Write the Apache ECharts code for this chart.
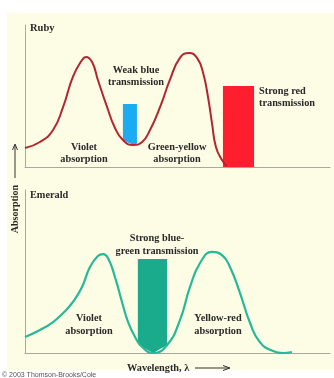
<!DOCTYPE html>
<html><head><meta charset="utf-8">
<script src="https://cdn.jsdelivr.net/npm/echarts/dist/echarts.min.js"></script>
<style>html,body{margin:0;padding:0;background:#fff}#c{width:334px;height:378px}</style>
</head><body><div id="c"></div>
<script>
// ---- Data (wavelength in arbitrary units 0-100, absorption 0-100) ----
const rubyX = [0, 4.9, 9.2, 12.5, 15.7, 18.7, 20.0, 22.0, 23.9, 26.9, 29.5, 32.1, 35.4, 38.4, 41.0, 44.3, 47.5, 50.8, 53.8, 56.4, 58.4, 60.0, 61.3, 62.6, 64.6, 66.2];
const rubyY = [13.4, 17.6, 26.1, 42.3, 63.4, 75.4, 77.5, 73.9, 61.3, 42.3, 27.5, 19.0, 15.5, 17.6, 26.1, 42.3, 61.3, 76.8, 80.3, 76.8, 66.2, 49.3, 31.0, 14.1, 4.9, 0.7];
const emeraldX = [0, 4.9, 9.2, 12.5, 15.7, 18.7, 21.3, 23.9, 25.6, 27.2, 29.5, 31.8, 33.8, 36.1, 38.4, 42.0, 46.6, 50.8, 54.1, 57.4, 61.3, 64.6, 67.2, 70.5, 73.8, 77.0, 81.3, 84.6, 87.5];
const emeraldY = [9.8, 14.1, 19.0, 24.5, 31.3, 40.5, 52.8, 59.5, 60.7, 58.3, 46.6, 31.3, 19.0, 9.8, 3.7, 0, 4.9, 20.2, 40.5, 55.2, 62.0, 60.1, 52.8, 36.8, 18.4, 6.7, 1.2, 0, 0.6];
// transmission bands: [start, end, top]
const rubyBlueBand = [32.1, 36.7, 44.4];
const rubyRedBand = [64.9, 75.1, 57.0];
const emeraldBand = [37.0, 46.6, 57.7];

const chart = echarts.init(document.getElementById('c'), null, {renderer: 'canvas'});
const FONT = '"Liberation Serif", "DejaVu Serif", serif';

function pairs(xs, ys) { return xs.map((x, i) => [x, ys[i]]); }
function interp(xs, ys, x) {
  if (x <= xs[0]) return ys[0];
  for (let i = 1; i < xs.length; i++) {
    if (x <= xs[i]) { const t = (x - xs[i-1]) / (xs[i] - xs[i-1]); return ys[i-1] + t * (ys[i] - ys[i-1]); }
  }
  return 0;
}
function bandRenderer(xs, ys, toCurve) {
  return function (params, api) {
    const x0 = api.value(0), x1 = api.value(1), top = api.value(2);
    const pts = [api.coord([x0, top]), api.coord([x1, top])];
    if (toCurve) {
      pts.push(api.coord([x1, interp(xs, ys, x1)]));
      for (let i = xs.length - 1; i >= 0; i--) {
        if (xs[i] > x0 && xs[i] < x1) pts.push(api.coord([xs[i], ys[i]]));
      }
      pts.push(api.coord([x0, interp(xs, ys, x0)]));
    } else {
      pts.push(api.coord([x1, 0]));
      pts.push(api.coord([x0, 0]));
    }
    return {type: 'polygon', shape: {points: pts}, style: {fill: api.visual('color')}};
  };
}
const axisCommon = {
  type: 'value', min: 0, max: 100,
  axisLine: {show: true, lineStyle: {color: '#a9a9a0', width: 1}},
  axisTick: {show: false}, axisLabel: {show: false}, splitLine: {show: false}
};
function lbl(x, y, text, align, lh) {
  return {
    type: 'text', x: x, y: y, z: 50,
    style: {text: text, fill: '#2a2a2a', font: 'bold 10.3px ' + FONT, textAlign: align || 'center', textVerticalAlign: 'top', lineHeight: lh || 12}
  };
}

chart.setOption({
  animation: false,
  backgroundColor: '#ffffff',
  grid: [
    {left: 25, top: 25, width: 305, height: 142},
    {left: 25, top: 190, width: 305, height: 163}
  ],
  xAxis: [Object.assign({gridIndex: 0}, axisCommon), Object.assign({gridIndex: 1}, axisCommon)],
  yAxis: [Object.assign({gridIndex: 0}, axisCommon), Object.assign({gridIndex: 1}, axisCommon)],
  series: [
    {type: 'custom', xAxisIndex: 0, yAxisIndex: 0, z: 1, itemStyle: {color: '#1aabf0'},
     renderItem: bandRenderer(rubyX, rubyY, true), data: [rubyBlueBand]},
    {type: 'custom', xAxisIndex: 0, yAxisIndex: 0, z: 1, itemStyle: {color: '#ff1e2d'},
     renderItem: bandRenderer(rubyX, rubyY, false), data: [rubyRedBand]},
    {type: 'custom', xAxisIndex: 1, yAxisIndex: 1, z: 1, itemStyle: {color: '#1aaa8c'},
     renderItem: bandRenderer(emeraldX, emeraldY, true), data: [emeraldBand]},
    {type: 'line', xAxisIndex: 0, yAxisIndex: 0, z: 3, smooth: 0.5, showSymbol: false,
     lineStyle: {color: '#b3262f', width: 2}, data: pairs(rubyX, rubyY)},
    {type: 'line', xAxisIndex: 1, yAxisIndex: 1, z: 3, smooth: 0.5, showSymbol: false,
     lineStyle: {color: '#27b898', width: 2.2}, data: pairs(emeraldX, emeraldY)}
  ],
  graphic: [
    {type: 'rect', z: -100, shape: {x: 7, y: 13, width: 327, height: 357}, style: {fill: '#fdfce4'}},
    {type: 'text', x: 30, y: 23, z: 50, style: {text: 'Ruby', fill: '#2a2a2a', font: 'bold 10.5px ' + FONT, textAlign: 'left', textVerticalAlign: 'top'}},
    lbl(136, 64, 'Weak blue\ntransmission'),
    lbl(259, 85, 'Strong red\ntransmission', 'left'),
    lbl(84, 141, 'Violet\nabsorption'),
    lbl(177, 141, 'Green-yellow\nabsorption'),
    lbl(30, 189, 'Emerald', 'left'),
    lbl(157, 232, 'Strong blue-\ngreen transmission', 'center', 13),
    lbl(89, 312, 'Violet\nabsorption', 'center', 13),
    lbl(218, 312, 'Yellow-red\nabsorption', 'center', 13),
    lbl(127, 362, 'Wavelength, λ', 'left'),
    {type: 'line', z: 50, shape: {x1: 195, y1: 368, x2: 229, y2: 368}, style: {stroke: '#333', lineWidth: 1}},
    {type: 'polyline', z: 50, shape: {points: [[223, 365.5], [230, 368], [223, 370.5]]}, style: {stroke: '#333', lineWidth: 1, fill: null}},
    {type: 'text', z: 50, x: 15, y: 209, rotation: Math.PI / 2,
     style: {text: 'Absorption', fill: '#2a2a2a', font: 'bold 10px ' + FONT, textAlign: 'center', textVerticalAlign: 'middle'}},
    {type: 'line', z: 50, shape: {x1: 15, y1: 178, x2: 15, y2: 145}, style: {stroke: '#333', lineWidth: 1}},
    {type: 'polyline', z: 50, shape: {points: [[12.5, 150], [15, 144], [17.5, 150]]}, style: {stroke: '#333', lineWidth: 1, fill: null}},
    {type: 'text', z: 50, x: 2, y: 372,
     style: {text: '© 2003 Thomson-Brooks/Cole', fill: '#555', font: '7px "Liberation Sans", sans-serif', textAlign: 'left', textVerticalAlign: 'top'}}
  ]
});
</script>
</body></html>
